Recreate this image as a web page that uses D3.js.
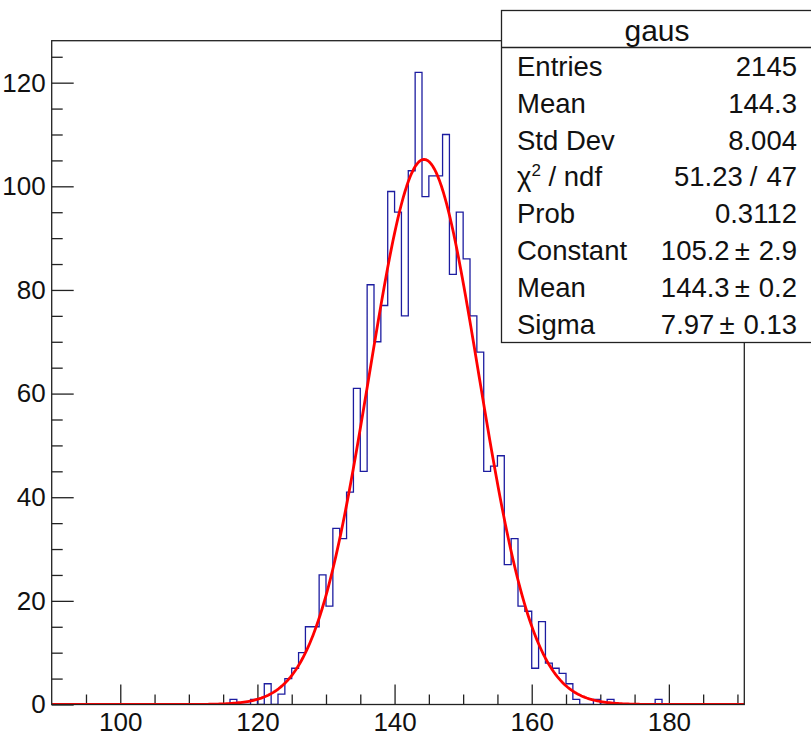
<!DOCTYPE html>
<html>
<head>
<meta charset="utf-8">
<script src="https://cdn.jsdelivr.net/npm/d3@7"></script>
<style>
  html, body { margin: 0; padding: 0; background: #fff; }
  svg { display: block; font-family: "Liberation Sans", Arial, Helvetica, sans-serif; }
</style>
</head>
<body>
<svg id="chart" width="811" height="737"></svg>
<script>
// ---- data ----
const xRange = [90, 191];
const binLowEdges = [116,117,118,119,120,121,122,123,124,125,126,127,128,129,130,131,132,133,134,135,
  136,137,138,139,140,141,142,143,144,145,146,147,148,149,150,151,152,153,154,155,
  156,157,158,159,160,161,162,163,164,165,166,167,168,169,170,171,172,173,174,175,176,177,178];
const binCounts = [1,0,0,1,0,4,0,2,5,7,10,15,15,25,19,34,32,41,61,45,
  81,70,77,99,95,75,103,122,98,102,102,110,83,95,86,75,68,45,46,48,
  27,32,19,18,7,16,8,7,6,4,1,0,0,1,0,1,0,0,0,0,0,0,1];
const yMax = 128.1;
const xMajorTicks = [100, 120, 140, 160, 180];
const xMinorTicks = [95,105,110,115,125,130,135,145,150,155,165,170,175,185,190];
const yMajorTicks = [0, 20, 40, 60, 80, 100, 120];
const yMinorTicks = [5,10,15,25,30,35,45,50,55,65,70,75,85,90,95,105,110,115,125];
const fitName = "gaus";
const fitConstant = 105.2;
const fitMean = 144.3;
const fitSigma = 7.97;
const statLabels = ["Entries", "Mean", "Std Dev", "χ2 / ndf", "Prob", "Constant", "Mean", "Sigma"];
const statValues = ["2145", "144.3", "8.004", "51.23 / 47", "0.3112", "105.2", "144.3", "7.97"];
const statErrors = [null, null, null, null, null, "2.9", "0.2", "0.13"];

// ---- layout ----
const svg = d3.select("#chart");
const fr = { left: 51.7, top: 40.7, right: 744.3, bottom: 704.5 };
const x = d3.scaleLinear().domain(xRange).range([fr.left, fr.right]);
const y = d3.scaleLinear().domain([0, yMax]).range([fr.bottom, fr.top]);

svg.append("defs").append("clipPath").attr("id", "clip")
  .append("rect").attr("x", fr.left).attr("y", fr.top)
  .attr("width", fr.right - fr.left).attr("height", fr.bottom - fr.top);

// axes
const axisFont = "26px";
const gxMinor = svg.append("g").attr("transform", `translate(0,${fr.bottom})`)
  .call(d3.axisBottom(x).tickValues(xMinorTicks).tickSize(-10).tickFormat(""));
const gxMajor = svg.append("g").attr("transform", `translate(0,${fr.bottom})`)
  .call(d3.axisBottom(x).tickValues(xMajorTicks).tickSize(-20).tickPadding(8).tickFormat(d3.format("d")));
const gyMinor = svg.append("g").attr("transform", `translate(${fr.left},0)`)
  .call(d3.axisLeft(y).tickValues(yMinorTicks).tickSize(-11).tickFormat(""));
const gyMajor = svg.append("g").attr("transform", `translate(${fr.left},0)`)
  .call(d3.axisLeft(y).tickValues(yMajorTicks).tickSize(-22).tickPadding(6).tickFormat(d3.format("d")));
[gxMinor, gxMajor, gyMinor, gyMajor].forEach(g => {
  g.select(".domain").remove();
  g.selectAll(".tick line").attr("stroke", "#222").attr("stroke-width", 1.3);
  g.selectAll("text").attr("fill", "#111").style("font-size", axisFont)
    .style("font-family", '"Liberation Sans", Arial, sans-serif');
});

// histogram outline (step)
const pts = [];
pts.push([xRange[0], 0]);
pts.push([binLowEdges[0], 0]);
binLowEdges.forEach((lo, i) => {
  pts.push([lo, binCounts[i]]);
  pts.push([lo + 1, binCounts[i]]);
});
pts.push([binLowEdges[binLowEdges.length - 1] + 1, 0]);
pts.push([xRange[1], 0]);
svg.append("path")
  .attr("clip-path", "url(#clip)")
  .attr("d", d3.line().x(d => x(d[0])).y(d => y(d[1]))(pts))
  .attr("fill", "none").attr("stroke", "#1c1ca0").attr("stroke-width", 1.3);

// fit function
const fx = d3.range(0, 401).map(i => xRange[0] + (xRange[1] - xRange[0]) * i / 400);
const fitPts = fx.map(v => [v, fitConstant * Math.exp(-0.5 * Math.pow((v - fitMean) / fitSigma, 2))]);
svg.append("path")
  .attr("clip-path", "url(#clip)")
  .attr("d", d3.line().x(d => x(d[0])).y(d => y(d[1]))(fitPts))
  .attr("fill", "none").attr("stroke", "#ff0000").attr("stroke-width", 2.8)
  .attr("stroke-linejoin", "round");

// frame
svg.append("rect").attr("x", fr.left).attr("y", fr.top)
  .attr("width", fr.right - fr.left).attr("height", fr.bottom - fr.top)
  .attr("fill", "none").attr("stroke", "#222").attr("stroke-width", 1.3);

// stats box
const sb = { left: 501.5, top: 10.5, right: 813, head: 47.5, bottom: 342.5 };
const g = svg.append("g");
g.append("rect").attr("x", sb.left).attr("y", sb.top)
  .attr("width", sb.right - sb.left).attr("height", sb.bottom - sb.top)
  .attr("fill", "#fff").attr("stroke", "#222").attr("stroke-width", 1.3);
g.append("line").attr("x1", sb.left).attr("x2", sb.right).attr("y1", sb.head).attr("y2", sb.head)
  .attr("stroke", "#222").attr("stroke-width", 1.3);
const statFont = 27.5;
g.append("text").attr("x", 657).attr("y", (sb.top + sb.head) / 2 + 1)
  .attr("text-anchor", "middle").attr("dominant-baseline", "central")
  .style("font-size", "30px").attr("fill", "#111").text(fitName);
const rowH = (sb.bottom - sb.head) / statLabels.length;
statLabels.forEach((lab, i) => {
  const cy = sb.head + rowH * (i + 0.5);
  const base = cy + statFont * 0.36;
  const t = g.append("text").attr("x", 517).attr("y", base)
    .style("font-size", statFont + "px").attr("fill", "#111");
  if (lab.indexOf("χ2") === 0) {
    t.append("tspan").text("χ");
    t.append("tspan").attr("dy", -10).style("font-size", "17px").text("2");
    t.append("tspan").attr("dy", 10).text(lab.slice(2));
  } else {
    t.text(lab);
  }
  const v = g.append("text").attr("x", 797).attr("y", base)
    .attr("text-anchor", "end").style("font-size", statFont + "px").attr("fill", "#111");
  if (statErrors[i]) {
    v.append("tspan").text(statValues[i]);
    v.append("tspan").attr("dx", 5).text("±");
    v.append("tspan").attr("dx", 9).text(statErrors[i]);
  } else if (statValues[i].indexOf("/") >= 0) {
    const parts = statValues[i].split(" / ");
    v.append("tspan").text(parts[0]);
    v.append("tspan").attr("dx", 7).text("/");
    v.append("tspan").attr("dx", 9).text(parts[1]);
  } else {
    v.text(statValues[i]);
  }
});
</script>
</body>
</html>
